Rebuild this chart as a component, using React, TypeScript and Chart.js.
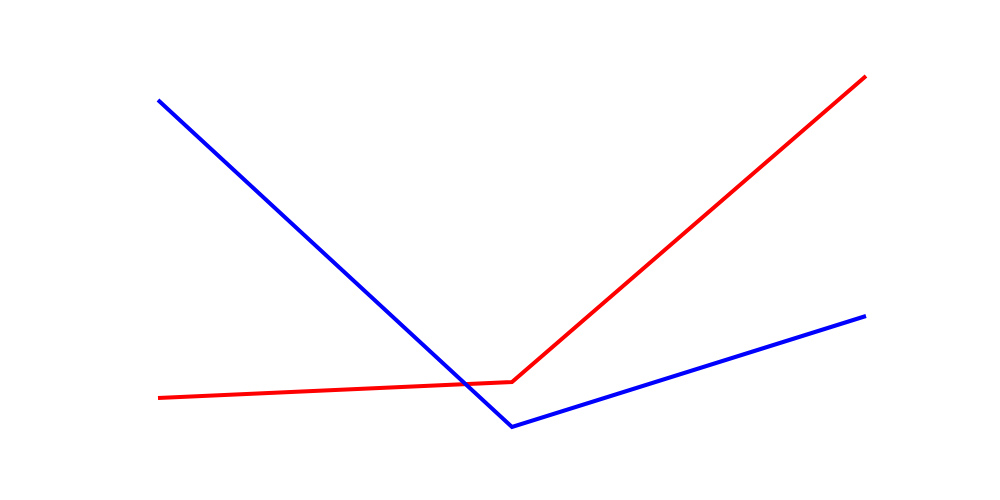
import React, { useEffect, useRef } from "react";
import { Chart, registerables } from "chart.js";

Chart.register(...registerables);

const categories = ["A", "B", "C"];
const blueValues = [87.5, 5.75, 33.5];
const redValues = [13, 17, 93.5];

export default function App() {
  const ref = useRef<HTMLCanvasElement | null>(null);
  useEffect(() => {
    if (!ref.current) return;
    const chart = new Chart(ref.current, {
      type: "line",
      data: {
        labels: categories,
        datasets: [
          {
            data: blueValues,
            borderColor: "#0000ff",
            borderWidth: 4,
            pointRadius: 0,
            tension: 0,
            fill: false,
            clip: false as any,
          },
          {
            data: redValues,
            borderColor: "#ff0000",
            borderWidth: 4,
            pointRadius: 0,
            tension: 0,
            fill: false,
            clip: false as any,
          },
        ],
      },
      options: {
        animation: false,
        responsive: true,
        maintainAspectRatio: false,
        layout: { padding: { left: 158, right: 134, top: 50, bottom: 50 } },
        plugins: { legend: { display: false }, tooltip: { enabled: false } },
        scales: {
          x: { display: false, offset: false },
          y: { display: false, min: 0, max: 100 },
        },
      },
    });
    return () => chart.destroy();
  }, []);
  return (
    <div style={{ position: "fixed", left: 0, top: 0, width: 1000, height: 500, background: "#fff" }}>
      <canvas ref={ref} />
    </div>
  );
}
